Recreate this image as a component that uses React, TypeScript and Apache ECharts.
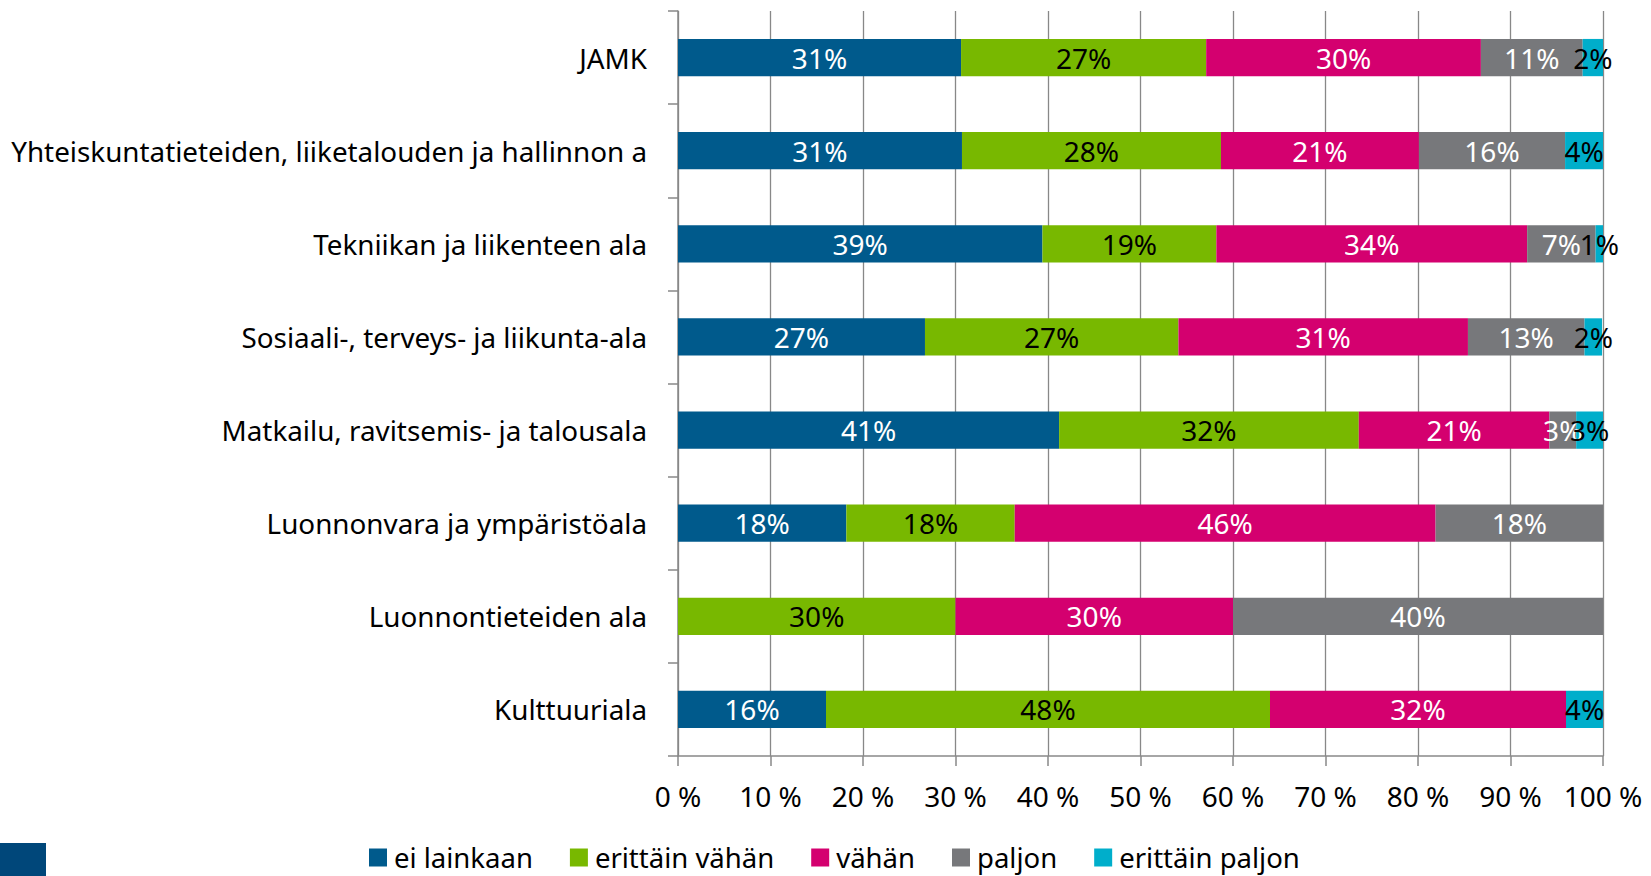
import React, { useEffect, useRef } from "react";
import * as echarts from "echarts";

const categories = [
  "JAMK",
  "Yhteiskuntatieteiden, liiketalouden ja hallinnon a",
  "Tekniikan ja liikenteen ala",
  "Sosiaali-, terveys- ja liikunta-ala",
  "Matkailu, ravitsemis- ja talousala",
  "Luonnonvara ja ympäristöala",
  "Luonnontieteiden ala",
  "Kulttuuriala",
];

const seriesNames = ["ei lainkaan", "erittäin vähän", "vähän", "paljon", "erittäin paljon"];

const eiLainkaan = [30.6, 30.7, 39.4, 26.7, 41.2, 18.2, 0, 16];
const erittainVahan = [26.5, 28.0, 18.8, 27.4, 32.4, 18.2, 30, 48];
const vahan = [29.7, 21.4, 33.6, 31.3, 20.6, 45.5, 30, 32];
const paljon = [11.0, 15.8, 7.4, 12.6, 2.9, 18.1, 40, 0];
const erittainPaljon = [2.2, 4.1, 0.8, 1.9, 3.0, 0, 0, 4];

const xTicks = [0, 10, 20, 30, 40, 50, 60, 70, 80, 90, 100];

const colors = ["#005A8C", "#78B800", "#D4006F", "#77787B", "#00AECB"];
const labelColors = ["#ffffff", "#000000", "#ffffff", "#ffffff", "#000000"];

const FONT = "'Noto Sans', sans-serif";
const FS = 28;

export default function App() {
  const ref = useRef<HTMLDivElement>(null);
  useEffect(() => {
    if (!ref.current) return;
    const chart = echarts.init(ref.current, null, { renderer: "svg" });
    const values = [eiLainkaan, erittainVahan, vahan, paljon, erittainPaljon];
    chart.setOption({
      animation: false,
      textStyle: { fontFamily: FONT },
      grid: { left: 678, right: 48, top: 11, bottom: 120, containLabel: false },
      xAxis: {
        type: "value",
        min: xTicks[0],
        max: xTicks[xTicks.length - 1],
        interval: 10,
        axisLine: { show: true, lineStyle: { color: "#888888", width: 1.5 } },
        axisTick: { show: true, length: 10, lineStyle: { color: "#888888", width: 1.5 } },
        splitLine: { show: true, lineStyle: { color: "#888888", width: 1.3 } },
        axisLabel: {
          formatter: "{value} %",
          color: "#000",
          fontSize: FS,
          fontFamily: FONT,
          margin: 26,
        },
      },
      yAxis: {
        type: "category",
        inverse: true,
        data: categories,
        axisLine: { show: true, lineStyle: { color: "#888888", width: 1.5 } },
        axisTick: { show: true, length: 10, lineStyle: { color: "#888888", width: 1.5 } },
        axisLabel: { color: "#000", fontSize: 27.8, fontFamily: FONT, margin: 31 },
      },
      legend: {
        left: 369,
        top: 843,
        padding: 0,
        itemWidth: 18,
        itemHeight: 18,
        itemGap: 37,
        icon: "rect",
        textStyle: { color: "#000", fontSize: 27.5, fontFamily: FONT, lineHeight: 29, padding: [0, 0, 0, 2] },
        data: seriesNames,
      },
      graphic: [
        { type: "rect", left: 0, top: 843, shape: { width: 46, height: 33 }, style: { fill: "#00477A" } },
      ],
      series: seriesNames.map((name, i) => ({
        name,
        type: "bar",
        stack: "total",
        barCategoryGap: "60%",
        itemStyle: { color: colors[i] },
        label: {
          show: true,
          position: "inside",
          color: labelColors[i],
          fontSize: FS,
          fontFamily: FONT,
          formatter: (p: any) => (p.value > 0 ? Math.round(p.value) + "%" : ""),
        },
        data: values[i],
      })),
    });
    return () => chart.dispose();
  }, []);
  return (
    <div
      ref={ref}
      style={{ position: "absolute", left: 0, top: 0, width: 1651, height: 876, background: "#fff" }}
    />
  );
}
